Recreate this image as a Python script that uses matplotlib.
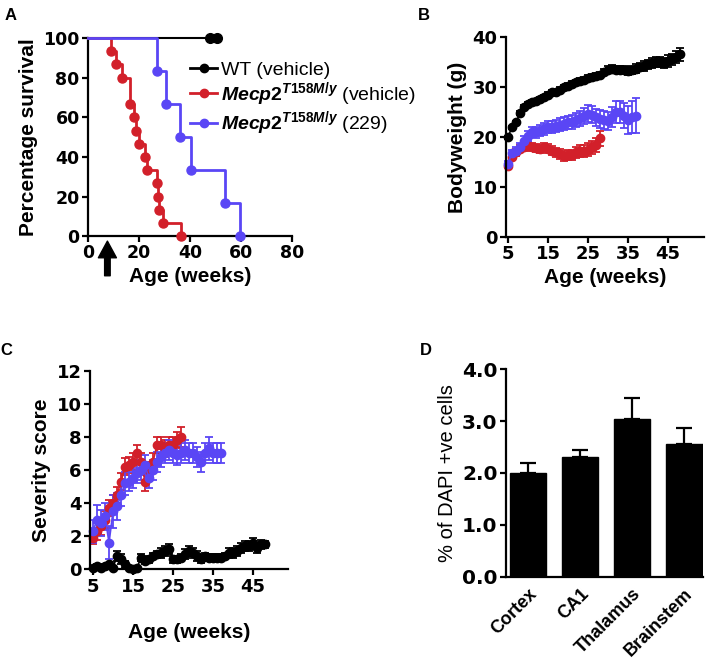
import numpy as np
import matplotlib
matplotlib.use("Agg")
import matplotlib.pyplot as plt
from matplotlib.lines import Line2D

plt.rcParams['font.family'] = ['Liberation Sans', 'DejaVu Sans']
plt.rcParams['font.weight'] = 'bold'
plt.rcParams['axes.labelweight'] = 'bold'
plt.rcParams['mathtext.fontset'] = 'custom'
plt.rcParams['mathtext.it'] = 'Liberation Sans:italic:bold'
plt.rcParams['mathtext.rm'] = 'Liberation Sans:bold'
plt.rcParams['mathtext.bf'] = 'Liberation Sans:bold'

BLACK = '#000000'
RED = '#D2202A'
BLUE = '#5A46F5'

# A - survival
surv_wt_t = [0, 50.7]
surv_wt_y = [100, 100]
surv_wt_cens = [48.0, 50.7]
surv_ko_t = [0, 9, 11, 13.5, 16.5, 18, 19, 20, 22.5, 23, 27, 27.5, 28, 29.5, 36.5]
surv_ko_y = [100, 93.3, 86.7, 80, 66.7, 60, 53.3, 46.7, 40, 33.3, 26.7, 20, 13.3, 6.7, 0]
surv_229_t = [0, 27.2, 30.8, 36, 40.3, 53.9, 59.6]
surv_229_y = [100, 83.3, 66.7, 50, 33.3, 16.7, 0]
arrow_week = 7.6

# B - bodyweight
wk_wt = list(range(5, 49))
wk_ko = list(range(5, 29))
wk_229 = list(range(5, 38))
bw_wt = [20.0, 22.0, 23.0, 24.8, 26.0, 26.6, 27.0, 27.3, 27.7, 28.0, 28.5, 29.0, 29.0, 29.5,
         30.0, 30.3, 30.7, 31.0, 31.3, 31.5, 31.8, 32.0, 32.2, 32.5, 33.0, 33.5, 33.7, 33.5,
         33.5, 33.5, 33.3, 33.5, 33.7, 34.0, 34.2, 34.5, 34.8, 35.0, 35.0, 34.8, 35.2, 35.5,
         36.0, 36.5]
bw_wt_err = [0.3, 0.3, 0.3, 0.4, 0.4, 0.4, 0.4, 0.4, 0.4, 0.4, 0.5, 0.5, 0.5, 0.5,
             0.5, 0.5, 0.5, 0.5, 0.5, 0.6, 0.6, 0.6, 0.6, 0.6, 0.6, 0.7, 0.7, 0.7,
             0.7, 0.7, 0.8, 0.8, 0.8, 0.8, 0.9, 0.9, 0.9, 1.0, 1.0, 1.0, 1.1, 1.1,
             1.2, 1.3]
bw_ko = [14.2, 16.0, 17.0, 17.7, 18.0, 18.3, 18.0, 17.8, 17.7, 18.0, 17.7, 17.3, 17.0, 16.7,
         16.3, 16.5, 16.5, 17.0, 17.3, 17.3, 17.5, 18.0, 18.5, 19.8]
bw_ko_err = [0.4, 0.6, 0.7, 0.7, 0.8, 0.8, 0.8, 0.8, 0.8, 0.8, 0.9, 0.9, 0.9, 1.0,
             1.0, 1.0, 1.0, 1.1, 1.2, 1.2, 1.3, 1.3, 1.4, 1.5]
bw_229 = [14.7, 16.8, 17.3, 18.0, 19.3, 20.3, 21.0, 21.0, 21.3, 21.7, 22.0, 22.0, 22.3, 22.5,
          22.7, 23.0, 23.0, 23.5, 23.8, 24.3, 24.7, 24.5, 24.0, 23.7, 23.5, 23.3, 24.0, 25.0,
          25.0, 24.3, 23.5, 24.0, 24.3]
bw_229_err = [0.5, 0.6, 0.7, 0.8, 0.9, 1.0, 1.0, 1.1, 1.1, 1.2, 1.2, 1.2, 1.2, 1.3,
              1.3, 1.3, 1.4, 1.4, 1.5, 1.6, 1.7, 1.7, 1.7, 1.8, 1.8, 1.8, 2.0, 2.2,
              2.2, 2.5, 2.8, 3.2, 3.5]

# C - severity score
wk_ko_sev = list(range(5, 28))
sev_wt = [0.1, 0.2, 0.1, 0.2, 0.3, 0.1, 0.8, 0.6, 0.3, 0.1, 0.0, 0.1, 0.7, 0.5, 0.6, 0.8,
          0.9, 1.0, 1.1, 1.2, 0.6, 0.6, 0.7, 0.9, 1.1, 1.0, 0.8, 0.6, 0.8, 0.7, 0.7, 0.7,
          0.7, 0.8, 1.0, 1.0, 1.1, 1.3, 1.4, 1.4, 1.6, 1.3, 1.5, 1.5]
sev_wt_err = [0.1, 0.1, 0.1, 0.1, 0.1, 0.1, 0.3, 0.3, 0.2, 0.1, 0.0, 0.1, 0.2, 0.2, 0.2, 0.2,
              0.2, 0.3, 0.3, 0.3, 0.2, 0.2, 0.2, 0.3, 0.3, 0.3, 0.3, 0.2, 0.2, 0.2, 0.2, 0.2,
              0.2, 0.2, 0.3, 0.3, 0.3, 0.3, 0.3, 0.3, 0.3, 0.3, 0.3, 0.2]
sev_ko = [1.9, 2.3, 2.6, 3.0, 3.7, 4.0, 4.5, 5.3, 6.2, 6.3, 6.5, 7.0, 6.5, 5.3, 6.0, 6.5,
          7.5, 7.5, 7.3, 7.5, 7.5, 7.8, 8.0]
sev_ko_err = [0.4, 0.5, 0.5, 0.5, 0.5, 0.5, 0.5, 0.5, 0.5, 0.5, 0.5, 0.5, 0.5, 0.6, 0.5, 0.5,
              0.5, 0.5, 0.5, 0.5, 0.5, 0.5, 0.6]
sev_229 = [2.3, 3.0, 2.8, 3.2, 1.6, 3.5, 3.8, 4.5, 5.2, 5.3, 5.5, 5.8, 6.0, 6.3, 5.5, 6.0,
           6.5, 6.8, 7.0, 7.2, 7.0, 6.9, 7.0, 7.2, 7.0, 7.0, 6.8, 6.5, 7.0, 7.3, 7.0, 7.0, 7.0]
sev_229_err = [0.7, 0.9, 0.8, 0.8, 1.0, 1.0, 0.8, 0.7, 0.7, 0.6, 0.6, 0.6, 0.6, 0.6, 0.6, 0.6,
               0.6, 0.6, 0.6, 0.6, 0.6, 0.6, 0.6, 0.6, 0.6, 0.6, 0.6, 0.6, 0.6, 0.7, 0.6, 0.6, 0.6]

# D - % of DAPI +ve cells
regions = ['Cortex', 'CA1', 'Thalamus', 'Brainstem']
dapi = [2.0, 2.3, 3.05, 2.55]
dapi_err = [0.2, 0.15, 0.4, 0.32]

fig = plt.figure(figsize=(7.1, 6.69), dpi=100)

def style(ax, tick_fs=12.5):
    for s in ['top', 'right']:
        ax.spines[s].set_visible(False)
    for s in ['left', 'bottom']:
        ax.spines[s].set_linewidth(1.6)
    ax.tick_params(width=1.6, length=4, labelsize=tick_fs, pad=2,
                   labelfontfamily='DejaVu Sans')

# ---------- A ----------
axA = fig.add_axes([0.124, 0.647, 0.287, 0.296])
axA.plot(surv_wt_t, surv_wt_y, color=BLACK, lw=1.5, clip_on=False, zorder=2)
axA.plot(surv_wt_cens, [100, 100], 'o', color=BLACK, ms=7, clip_on=False, zorder=3)
axA.step(surv_ko_t, surv_ko_y, where='post', color=RED, lw=2, clip_on=False, zorder=3)
axA.plot(surv_ko_t[1:], surv_ko_y[1:], 'o', color=RED, ms=6.5, clip_on=False, zorder=3)
axA.step(surv_229_t, surv_229_y, where='post', color=BLUE, lw=2, clip_on=False, zorder=4)
axA.plot(surv_229_t[1:], surv_229_y[1:], 'o', color=BLUE, ms=6.5, clip_on=False, zorder=4)
axA.set_xlim(0, 80)
axA.set_ylim(0, 100)
axA.set_xticks([0, 20, 40, 60, 80])
axA.set_yticks([0, 20, 40, 60, 80, 100])
style(axA)
axA.set_xlabel('Age (weeks)', fontsize=15, labelpad=3)
axA.set_ylabel('Percentage survival', fontsize=15, labelpad=4)
axA.annotate('', xy=(arrow_week, -2.5), xytext=(arrow_week, -20),
             arrowprops=dict(facecolor='black', edgecolor='black', width=4,
                             headwidth=13, headlength=12, shrink=0),
             annotation_clip=False)
handles = [Line2D([], [], color=BLACK, lw=2, marker='o', ms=6),
           Line2D([], [], color=RED, lw=2, marker='o', ms=6),
           Line2D([], [], color=BLUE, lw=2, marker='o', ms=6)]
labels = ['WT (vehicle)', r'$\mathit{Mecp2}^{\mathit{T158M/y}}$ (vehicle)',
          r'$\mathit{Mecp2}^{\mathit{T158M/y}}$ (229)']
leg = axA.legend(handles, labels, loc='upper left', bbox_to_anchor=(0.5, 0.885),
                 frameon=False, borderpad=0, borderaxespad=0, handlelength=1.4,
                 handletextpad=0.2, labelspacing=0.08,
                 prop={'weight': 'normal', 'size': 14})
for t in leg.get_texts():
    t.set_clip_on(False)

# ---------- B ----------
axB = fig.add_axes([0.7127, 0.6457, 0.279, 0.299])
ekw = dict(fmt='-o', ms=6, lw=1.2, elinewidth=1.3, capsize=3, capthick=1.3, clip_on=False)
axB.errorbar(wk_wt, bw_wt, yerr=bw_wt_err, color=BLACK, **ekw)
axB.errorbar(wk_ko, bw_ko, yerr=bw_ko_err, color=RED, **ekw)
axB.errorbar(wk_229, bw_229, yerr=bw_229_err, color=BLUE, **ekw)
axB.set_xlim(4.5, 54)
axB.set_ylim(0, 40)
axB.set_xticks([5, 15, 25, 35, 45])
axB.set_yticks([0, 10, 20, 30, 40])
style(axB, 13)
axB.set_xlabel('Age (weeks)', fontsize=15, labelpad=3)
axB.set_ylabel('Bodyweight (g)', fontsize=15, labelpad=4)

# ---------- C ----------
axC = fig.add_axes([0.1268, 0.149, 0.279, 0.297])
ekw = dict(fmt='-o', ms=6, lw=1.2, elinewidth=1.3, capsize=3, capthick=1.3, clip_on=False)
axC.errorbar(wk_wt, sev_wt, yerr=sev_wt_err, color=BLACK, **ekw)
axC.errorbar(wk_ko_sev, sev_ko, yerr=sev_ko_err, color=RED, **ekw)
axC.errorbar(wk_229, sev_229, yerr=sev_229_err, color=BLUE, **ekw)
axC.set_xlim(4.25, 53.8)
axC.set_ylim(0, 12)
axC.set_xticks([5, 15, 25, 35, 45])
axC.set_yticks([0, 2, 4, 6, 8, 10, 12])
style(axC, 13)
axC.set_xlabel('Age (weeks)', fontsize=15, labelpad=20)
axC.set_ylabel('Severity score', fontsize=15, labelpad=4)

# ---------- D ----------
axD = fig.add_axes([0.7127, 0.138, 0.2775, 0.310])
x = np.arange(len(regions))
axD.bar(x, dapi, width=0.7, color='black', edgecolor='black')
axD.errorbar(x, dapi, yerr=[np.zeros(len(dapi)), dapi_err], fmt='none', ecolor='black',
             elinewidth=1.6, capsize=6, capthick=1.6)
axD.set_xlim(-0.42, 3.36)
axD.set_ylim(0, 4.0)
axD.set_yticks([0, 1, 2, 3, 4])
axD.set_yticklabels(['0.0', '1.0', '2.0', '3.0', '4.0'])
axD.set_xticks(x)
style(axD, 14.5)
axD.set_xticklabels(regions, rotation=45, ha='right', rotation_mode='anchor',
                    fontsize=13, fontfamily='Liberation Sans', fontweight='bold')
axD.tick_params(axis='x', length=0, pad=6)
axD.set_ylabel('% of DAPI +ve cells', fontsize=14.5, fontweight='normal', labelpad=4)

for lbl, px, py in [('A', 5, 8), ('B', 418, 8), ('C', 0, 343), ('D', 420, 343)]:
    fig.text(px / 710, 1 - py / 669, lbl, fontsize=12, fontweight='bold', va='top', ha='left')

fig.savefig('out.png', dpi=100)
